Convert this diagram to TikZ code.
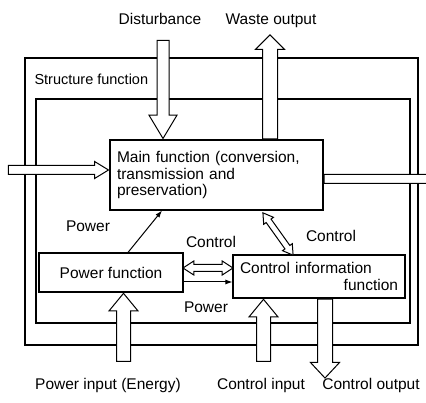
\documentclass[tikz,border=0pt]{standalone}
\usepackage{fontspec}
\setmainfont{Liberation Sans}
\usetikzlibrary{shapes.arrows,arrows.meta}

\begin{document}
\begin{tikzpicture}[x=1pt, y=-1pt, line width=1pt,
    txt/.style={font=\fontsize{15.5}{16.5}\selectfont, inner sep=0pt},
    box/.style={txt, draw, line width=1.1pt},
    fat/.style={single arrow, draw, fill=white, inner xsep=0pt, inner ysep=7pt,
      single arrow head extend=7pt},
    twin/.style={double arrow, draw, fill=white, inner xsep=0pt},
    thin/.style={-{Latex[length=7pt,width=5pt]}}
  ]
  \useasboundingbox (0,0) rectangle (426,403);
  \clip (0,0) rectangle (426,403);

  % structure function frames
  \draw[line width=1.1pt] (25,58) rectangle (418,345);
  \draw[line width=1.1pt] (36,99) rectangle (410,323);
  \node[txt, font=\fontsize{14.5}{16}\selectfont, anchor=base west] (struct) at (34,85) {Structure function};

  \node[box, minimum width=213pt, minimum height=70pt, inner xsep=7pt,
    text width=199pt, align=left] (main) at (216.5,175)
    {Main function (conversion,\\ transmission and\\ preservation)};
  \node[box, minimum width=144pt, minimum height=39pt] (power) at (111,272.5) {Power function};
  \node[box, minimum width=172pt, minimum height=43pt, inner xsep=7pt,
    text width=158pt, align=left] (ctrl) at (319,276.5)
    {Control information\\ \mbox{}\hfill function};

  % inputs and outputs
  \coordinate (dx) at (163,0);
  \coordinate (wx) at (270,0);
  \node[fat, minimum height=98pt, inner ysep=5.5pt, single arrow head extend=8pt,
    single arrow tip angle=62, rotate=-90, anchor=tip] (dist) at (dx |- main.north) {};
  \node[fat, minimum height=104pt, single arrow tip angle=90, rotate=90,
    anchor=tail] (waste) at (wx |- main.north) {};
  \node[fat, minimum height=100pt, inner ysep=4pt, single arrow head extend=4pt,
    single arrow tip angle=63, anchor=tip] (mainin) at ([yshift=5pt]main.west) {};
  \node[fat, minimum height=117pt, inner ysep=4pt, single arrow head extend=4pt,
    single arrow tip angle=63, anchor=tail] (mainout) at ([yshift=-4pt]main.east) {};
  \node[fat, minimum height=68pt, inner ysep=6.5pt, single arrow head extend=7.5pt,
    single arrow tip angle=79, rotate=90, anchor=tip] (powin) at ([xshift=12.5pt]power.south) {};
  \node[fat, minimum height=62pt, inner ysep=6.5pt, single arrow head extend=7.5pt,
    single arrow tip angle=79, rotate=90, anchor=tip] (ctrlin) at ([xshift=-55.5pt]ctrl.south) {};
  \node[fat, minimum height=79pt, single arrow tip angle=86, rotate=-90,
    anchor=tail] (ctrlout) at ([xshift=6pt]ctrl.south) {};

  % links between the functions
  \draw[thin] ([xshift=17pt]power.north) -- ([xshift=-54.5pt]main.south);
  \coordinate (pw) at ([yshift=-9.5pt]power.east);
  \draw[thin] (pw) -- (pw -| ctrl.west);
  \path (power.east) -- (ctrl.west) coordinate[pos=0.5] (mid);
  \node[twin, minimum height=50pt, inner ysep=3pt, double arrow head extend=3.5pt,
    double arrow tip angle=66] (pc) at ([yshift=6.5pt]mid) {};
  \node[twin, minimum height=52pt, inner ysep=2.5pt, double arrow head extend=3pt,
    double arrow tip angle=63, rotate=125.5] (mc) at (278,234) {};

  % labels
  \node[txt, anchor=base] (ldist) at (160,25) {Disturbance};
  \node[txt, anchor=base] (lwaste) at (271,25) {Waste output};
  \node[txt, anchor=base] (lpow1) at (88,232) {Power};
  \node[txt, anchor=base] (lctl1) at (211,248) {Control};
  \node[txt, anchor=base] (lctl2) at (331,242) {Control};
  \node[txt, anchor=base] (lpow2) at (206,313) {Power};
  \node[txt, anchor=base] (lpowin) at (108,390) {Power input (Energy)};
  \node[txt, anchor=base] (lctlin) at (261,390) {Control input};
  \node[txt, anchor=base] (lctlout) at (371,390) {Control output};
\end{tikzpicture}
\end{document}
